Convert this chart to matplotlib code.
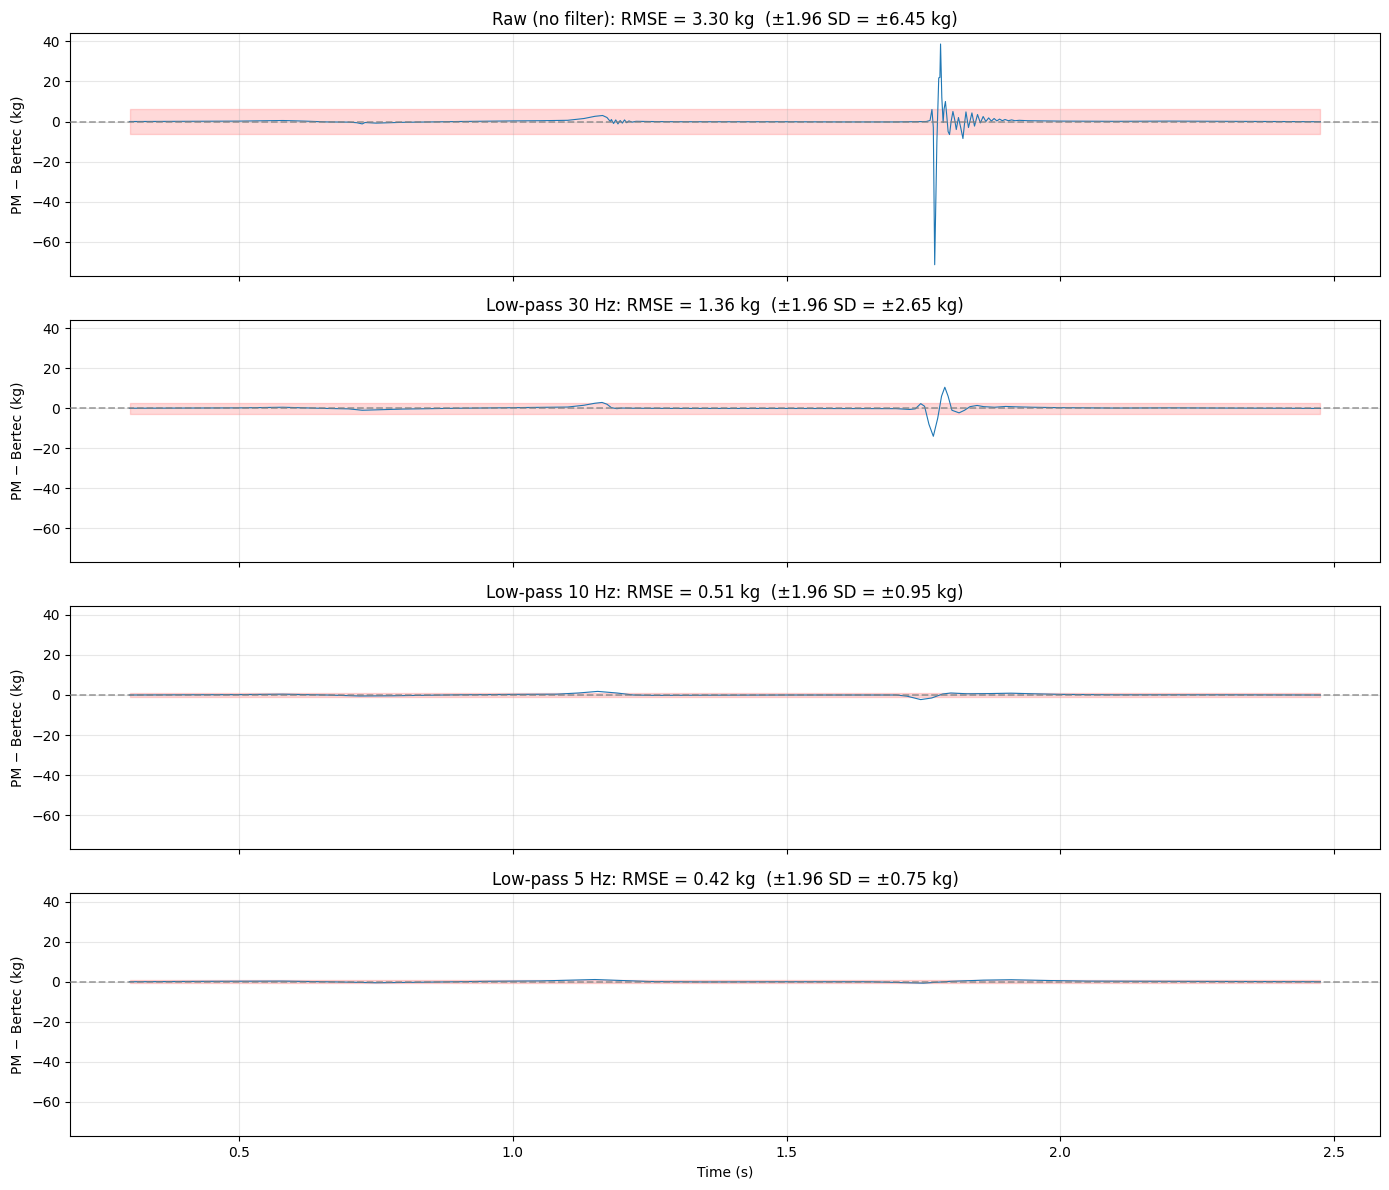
import matplotlib
matplotlib.use("Agg")
import matplotlib.pyplot as plt

# ── Data (time in s, PM - Bertec difference in kg) ──
raw_t = [0.30, 0.40, 0.50, 0.58, 0.62, 0.66, 0.70, 0.715, 0.725, 0.73, 0.75, 0.80,
         0.90, 1.00, 1.05, 1.10, 1.13, 1.15, 1.164, 1.172, 1.178, 1.180, 1.184, 1.188,
         1.192, 1.196, 1.200, 1.204, 1.208, 1.212, 1.218, 1.225, 1.25, 1.30, 1.40, 1.50,
         1.60, 1.70, 1.755, 1.762, 1.7655, 1.768, 1.7705, 1.7745, 1.7779, 1.780, 1.7812,
         1.7835, 1.7859, 1.7875, 1.7901, 1.7925, 1.7950, 1.7976, 1.8005, 1.8038, 1.8070,
         1.8099, 1.8139, 1.8180, 1.8221, 1.8250, 1.8276, 1.8322, 1.8385, 1.8432, 1.8487,
         1.8540, 1.859, 1.864, 1.869, 1.874, 1.879, 1.884, 1.889, 1.894, 1.899, 1.905,
         1.911, 1.917, 1.925, 1.94, 1.97, 2.00, 2.10, 2.20, 2.30, 2.40, 2.475]
raw_v = [0.0, 0.1, 0.2, 0.5, 0.2, -0.2, -0.3, -0.6, -1.2, -0.5, -0.8, -0.4,
         0.0, 0.3, 0.4, 0.6, 1.5, 2.6, 3.0, 2.0, 0.0, 1.0, -1.0, 0.8,
         -1.2, 0.5, -0.8, 0.8, -0.6, 0.3, -0.3, 0.1, 0.0, -0.1, -0.1, -0.1,
         -0.2, -0.2, 0.0, 0.5, 6.0, -3.0, -71.5, -10.0, 21.8, 22.0, 38.7,
         12.0, -0.5, 6.0, 10.0, 3.0, -5.0, -6.5, 0.0, 5.0, 1.0,
         -4.0, 2.0, -3.0, -8.5, -1.0, 4.8, -3.0, 4.3, -2.3, 3.5,
         -0.7, 2.5, 0.0, 1.8, 0.2, 1.5, 0.3, 1.2, 0.4, 1.0, 0.4,
         0.8, 0.4, 0.6, 0.4, 0.3, 0.2, 0.1, 0.2, 0.1, 0.0, -0.1]

lp30_t = [0.30, 0.40, 0.50, 0.58, 0.66, 0.70, 0.725, 0.75, 0.80, 0.90, 1.00, 1.10,
          1.13, 1.15, 1.163, 1.172, 1.18, 1.19, 1.20, 1.22, 1.30, 1.50, 1.70, 1.725,
          1.735, 1.745, 1.752, 1.760, 1.768, 1.776, 1.783, 1.789, 1.795, 1.802, 1.815,
          1.825, 1.835, 1.848, 1.86, 1.88, 1.90, 1.92, 1.95, 2.00, 2.10, 2.20, 2.30,
          2.40, 2.475]
lp30_v = [0.0, 0.1, 0.2, 0.5, -0.1, -0.3, -1.0, -0.8, -0.4, 0.0, 0.3, 0.6,
          1.5, 2.5, 2.9, 2.0, 0.3, -0.2, 0.1, 0.0, -0.1, -0.1, -0.2, -0.6,
          -0.3, 2.3, 1.0, -8.0, -14.0, -5.0, 6.0, 10.5, 6.0, -1.0, -2.3,
          -1.0, 0.8, 1.4, 0.8, 0.5, 0.9, 0.7, 0.5, 0.3, 0.1, 0.2, 0.1,
          0.0, -0.1]

lp10_t = [0.30, 0.40, 0.50, 0.58, 0.66, 0.72, 0.78, 0.90, 1.00, 1.08, 1.12, 1.155,
          1.19, 1.22, 1.26, 1.35, 1.50, 1.65, 1.70, 1.72, 1.745, 1.765, 1.785, 1.80,
          1.83, 1.87, 1.91, 1.95, 2.00, 2.10, 2.30, 2.475]
lp10_v = [0.0, 0.1, 0.2, 0.4, 0.0, -0.5, -0.4, 0.1, 0.3, 0.4, 1.0, 1.8,
          1.0, 0.0, -0.2, -0.1, 0.0, 0.0, 0.0, -0.6, -2.3, -1.5, 0.5, 1.0,
          0.6, 0.7, 0.9, 0.6, 0.3, 0.1, 0.1, 0.0]

lp5_t = [0.30, 0.45, 0.58, 0.68, 0.75, 0.82, 0.95, 1.05, 1.15, 1.25, 1.35, 1.50,
         1.65, 1.72, 1.75, 1.80, 1.86, 1.91, 1.98, 2.05, 2.20, 2.35, 2.475]
lp5_v = [0.0, 0.2, 0.3, -0.1, -0.5, -0.3, 0.2, 0.4, 1.1, 0.1, -0.1, 0.0,
         0.0, -0.5, -0.7, 0.2, 0.8, 1.0, 0.6, 0.3, 0.2, 0.1, 0.0]

titles = [
    "Raw (no filter): RMSE = 3.30 kg  (±1.96 SD = ±6.45 kg)",
    "Low-pass 30 Hz: RMSE = 1.36 kg  (±1.96 SD = ±2.65 kg)",
    "Low-pass 10 Hz: RMSE = 0.51 kg  (±1.96 SD = ±0.95 kg)",
    "Low-pass 5 Hz: RMSE = 0.42 kg  (±1.96 SD = ±0.75 kg)",
]
loa = [6.45, 2.65, 0.95, 0.75]
series = [(raw_t, raw_v), (lp30_t, lp30_v), (lp10_t, lp10_v), (lp5_t, lp5_v)]

fig, axes = plt.subplots(4, 1, figsize=(13.89, 11.9), sharex=True, sharey=True)
fig.subplots_adjust(left=0.0504, right=0.9935, top=0.9723, bottom=0.0454, hspace=0.181)

for ax, (t, v), title, band in zip(axes, series, titles, loa):
    ax.fill_between([t[0], t[-1]], [-band, -band], [band, band],
                    color="red", alpha=0.15, zorder=1)
    ax.plot(t, v, color="#1f77b4", linewidth=0.8, zorder=2)
    ax.axhline(0, color="gray", linestyle="--", linewidth=1.3, alpha=0.7, zorder=3)
    ax.set_title(title, fontsize=12)
    ax.set_ylabel("PM − Bertec (kg)")
    ax.grid(True, alpha=0.3)

axes[-1].set_xlabel("Time (s)")

fig.savefig("out.png", dpi=100)
